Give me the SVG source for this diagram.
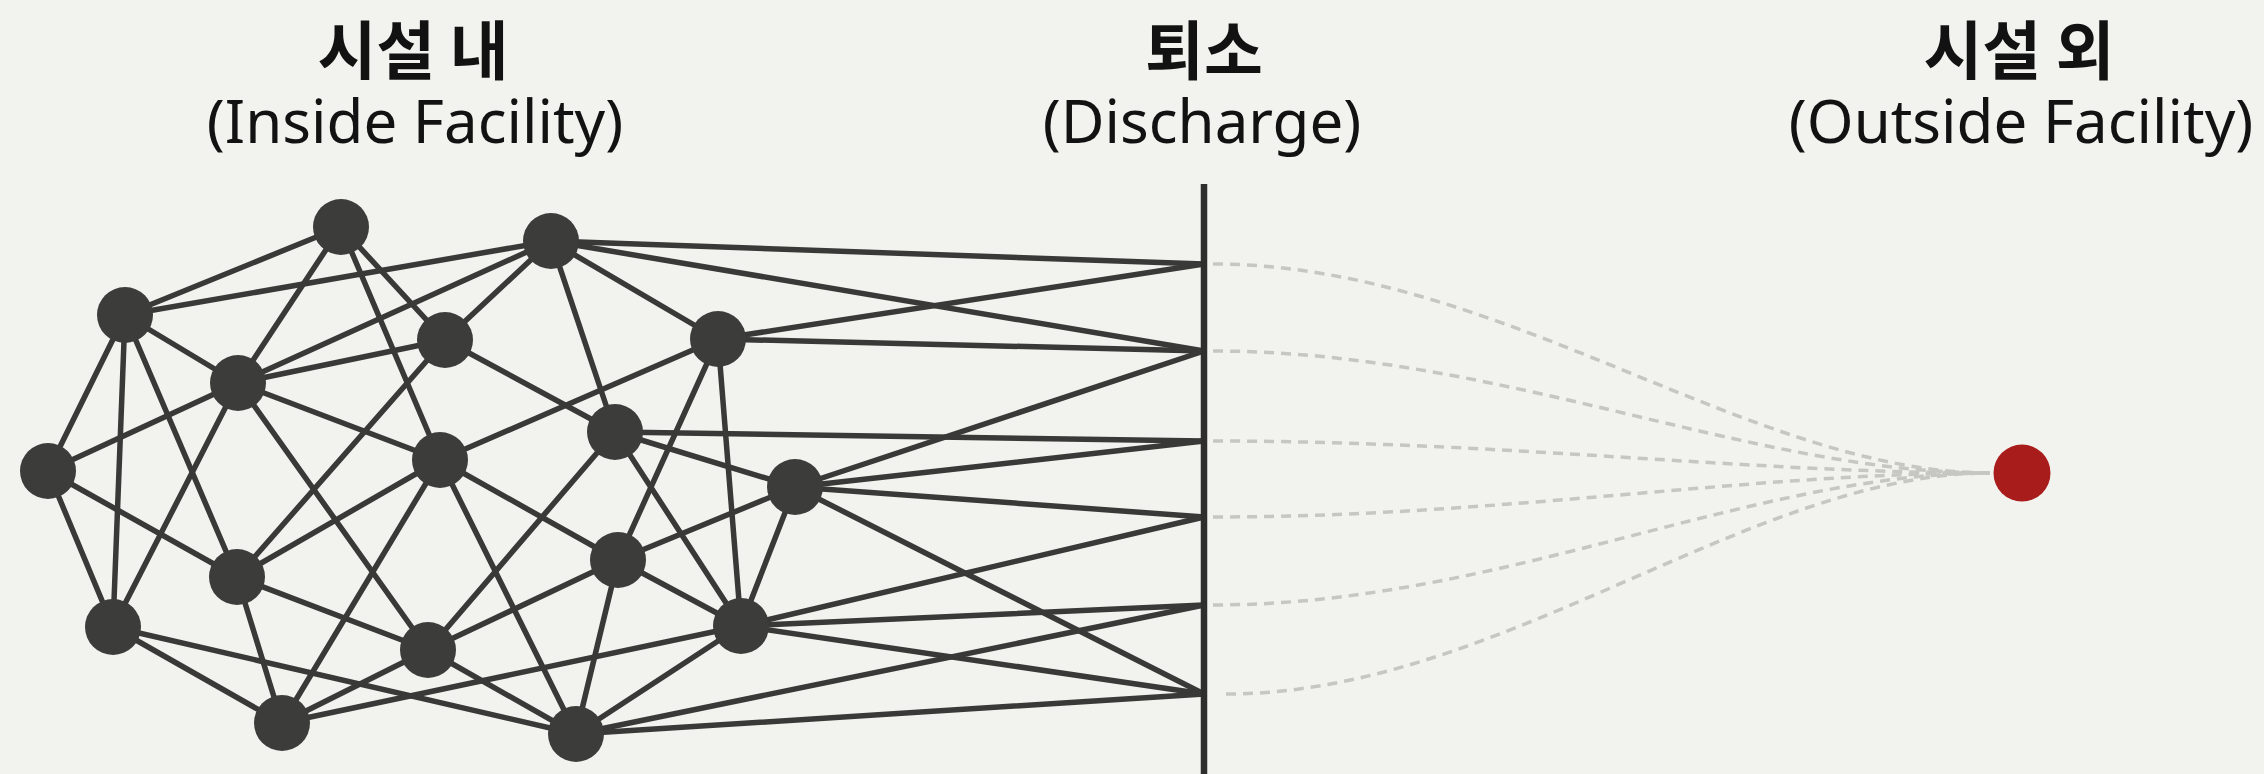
<svg xmlns="http://www.w3.org/2000/svg" width="2264" height="774" viewBox="0 0 2264 774">
<style>
.bg{fill:#f2f2ee}
.e{stroke:#393937;stroke-width:5.5;fill:none;stroke-linecap:round}
.n{fill:#3c3c3a}
.d{stroke:#c6c6c3;stroke-width:3.5;fill:none;stroke-dasharray:10 7}
.ko{font-family:"Noto Sans CJK KR","Noto Sans",sans-serif;font-weight:700;font-size:64px;fill:#121212;text-anchor:middle}
.en{font-family:"Noto Sans","Open Sans",sans-serif;font-size:60px;fill:#121212;text-anchor:middle}
</style>
<rect class="bg" x="0" y="0" width="2264" height="774"/>
<g id="labels">
<text class="ko" x="413" y="74">시설 내</text>
<text class="en" x="415" y="143">(Inside Facility)</text>
<text class="ko" x="1204" y="74">퇴소</text>
<text class="en" x="1202" y="143">(Discharge)</text>
<text class="ko" x="2019" y="74">시설 외</text>
<text class="en" x="2021" y="143">(Outside Facility)</text>
</g>
<g id="connectors">
<line class="e" x1="125" y1="315" x2="341" y2="227"/>
<line class="e" x1="125" y1="315" x2="551" y2="241"/>
<line class="e" x1="125" y1="315" x2="238" y2="383"/>
<line class="e" x1="125" y1="315" x2="48" y2="471"/>
<line class="e" x1="125" y1="315" x2="113" y2="627"/>
<line class="e" x1="125" y1="315" x2="237" y2="577"/>
<line class="e" x1="341" y1="227" x2="238" y2="383"/>
<line class="e" x1="341" y1="227" x2="445" y2="340"/>
<line class="e" x1="341" y1="227" x2="440" y2="460"/>
<line class="e" x1="551" y1="241" x2="238" y2="383"/>
<line class="e" x1="551" y1="241" x2="445" y2="340"/>
<line class="e" x1="551" y1="241" x2="615" y2="432"/>
<line class="e" x1="551" y1="241" x2="718" y2="339"/>
<line class="e" x1="551" y1="241" x2="1204" y2="264"/>
<line class="e" x1="551" y1="241" x2="1204" y2="351"/>
<line class="e" x1="238" y1="383" x2="48" y2="471"/>
<line class="e" x1="238" y1="383" x2="113" y2="627"/>
<line class="e" x1="238" y1="383" x2="445" y2="340"/>
<line class="e" x1="238" y1="383" x2="440" y2="460"/>
<line class="e" x1="238" y1="383" x2="428" y2="650"/>
<line class="e" x1="48" y1="471" x2="237" y2="577"/>
<line class="e" x1="48" y1="471" x2="113" y2="627"/>
<line class="e" x1="445" y1="340" x2="237" y2="577"/>
<line class="e" x1="445" y1="340" x2="615" y2="432"/>
<line class="e" x1="440" y1="460" x2="718" y2="339"/>
<line class="e" x1="440" y1="460" x2="237" y2="577"/>
<line class="e" x1="440" y1="460" x2="282" y2="723"/>
<line class="e" x1="440" y1="460" x2="618" y2="560"/>
<line class="e" x1="440" y1="460" x2="576" y2="734"/>
<line class="e" x1="615" y1="432" x2="428" y2="650"/>
<line class="e" x1="615" y1="432" x2="741" y2="626"/>
<line class="e" x1="615" y1="432" x2="795" y2="487"/>
<line class="e" x1="615" y1="432" x2="1204" y2="441"/>
<line class="e" x1="718" y1="339" x2="618" y2="560"/>
<line class="e" x1="718" y1="339" x2="741" y2="626"/>
<line class="e" x1="718" y1="339" x2="1204" y2="264"/>
<line class="e" x1="718" y1="339" x2="1204" y2="351"/>
<line class="e" x1="795" y1="487" x2="618" y2="560"/>
<line class="e" x1="795" y1="487" x2="741" y2="626"/>
<line class="e" x1="795" y1="487" x2="1204" y2="351"/>
<line class="e" x1="795" y1="487" x2="1204" y2="441"/>
<line class="e" x1="795" y1="487" x2="1204" y2="517"/>
<line class="e" x1="795" y1="487" x2="1204" y2="694"/>
<line class="e" x1="237" y1="577" x2="428" y2="650"/>
<line class="e" x1="237" y1="577" x2="282" y2="723"/>
<line class="e" x1="618" y1="560" x2="428" y2="650"/>
<line class="e" x1="618" y1="560" x2="576" y2="734"/>
<line class="e" x1="618" y1="560" x2="741" y2="626"/>
<line class="e" x1="113" y1="627" x2="282" y2="723"/>
<line class="e" x1="113" y1="627" x2="576" y2="734"/>
<line class="e" x1="428" y1="650" x2="282" y2="723"/>
<line class="e" x1="428" y1="650" x2="576" y2="734"/>
<line class="e" x1="282" y1="723" x2="741" y2="626"/>
<line class="e" x1="741" y1="626" x2="576" y2="734"/>
<line class="e" x1="741" y1="626" x2="1204" y2="517"/>
<line class="e" x1="741" y1="626" x2="1204" y2="605"/>
<line class="e" x1="741" y1="626" x2="1204" y2="694"/>
<line class="e" x1="576" y1="734" x2="1204" y2="605"/>
<line class="e" x1="576" y1="734" x2="1204" y2="694"/>
<path class="d" d="M1213,264 C1500,264 1750,473 1990,473"/>
<path class="d" d="M1213,351 C1500,351 1750,473 1990,473"/>
<path class="d" d="M1213,441 C1500,441 1750,473 1990,473"/>
<path class="d" d="M1213,517 C1500,517 1750,473 1990,473"/>
<path class="d" d="M1213,605 C1500,605 1750,473 1990,473"/>
<path class="d" d="M1226,694 C1500,694 1750,473 1990,473"/>
</g>
<g id="discharge"><line x1="1204" y1="184" x2="1204" y2="774" stroke="#2e2e2d" stroke-width="6.5"/></g>
<g id="nA"><circle class="n" cx="341" cy="227" r="28"/></g>
<g id="nB"><circle class="n" cx="551" cy="241" r="28"/></g>
<g id="nC"><circle class="n" cx="125" cy="315" r="28"/></g>
<g id="nD"><circle class="n" cx="445" cy="340" r="28"/></g>
<g id="nE"><circle class="n" cx="238" cy="383" r="28"/></g>
<g id="nF"><circle class="n" cx="718" cy="339" r="28"/></g>
<g id="nG"><circle class="n" cx="48" cy="471" r="28"/></g>
<g id="nH"><circle class="n" cx="440" cy="460" r="28"/></g>
<g id="nI"><circle class="n" cx="615" cy="432" r="28"/></g>
<g id="nJ"><circle class="n" cx="795" cy="487" r="28"/></g>
<g id="nK"><circle class="n" cx="237" cy="577" r="28"/></g>
<g id="nL"><circle class="n" cx="618" cy="560" r="28"/></g>
<g id="nM"><circle class="n" cx="113" cy="627" r="28"/></g>
<g id="nN"><circle class="n" cx="741" cy="626" r="28"/></g>
<g id="nO"><circle class="n" cx="428" cy="650" r="28"/></g>
<g id="nP"><circle class="n" cx="282" cy="723" r="28"/></g>
<g id="nQ"><circle class="n" cx="576" cy="734" r="28"/></g>
<g id="outside"><circle cx="2022" cy="473" r="28.5" fill="#a91c1c"/></g>
</svg>
